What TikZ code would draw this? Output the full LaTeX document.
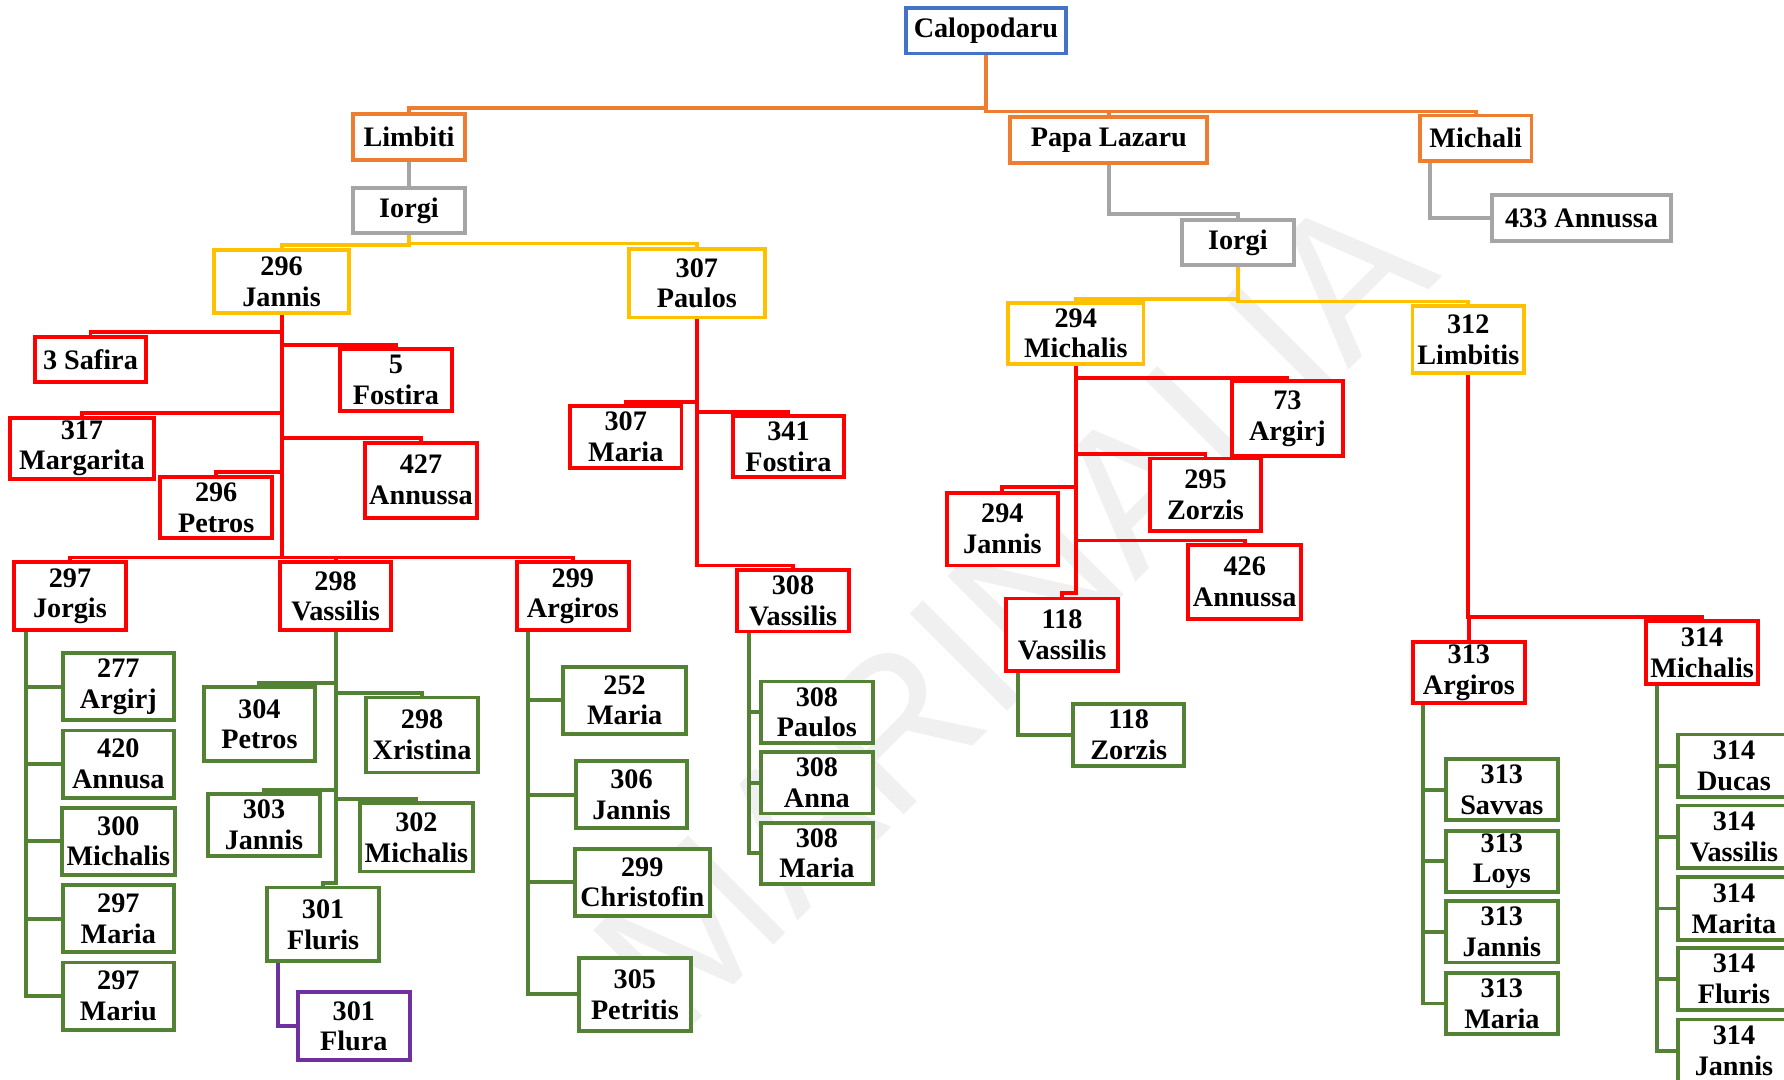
\documentclass[tikz,border=0pt]{standalone}
\usepackage{fontspec}
\setmainfont{Liberation Serif}
\newfontfamily\wmfont{Liberation Sans}
\usetikzlibrary{positioning}

\definecolor{cblue}{HTML}{4472C4}
\definecolor{corange}{HTML}{ED7D31}
\definecolor{cgray}{HTML}{A5A5A5}
\definecolor{cyellow}{HTML}{FFC000}
\definecolor{cred}{HTML}{FF0000}
\definecolor{cgreen}{HTML}{548235}
\definecolor{cpurple}{HTML}{7030A0}

\tikzset{
  pbox/.style={draw=#1, line width=1.7pt, fill=white, align=center,
    font=\fontsize{12.4}{13.5}\selectfont\bfseries,
    inner xsep=2pt, inner ysep=1pt, minimum width=49pt, minimum height=27pt},
  bluebox/.style={pbox=cblue},
  orangebox/.style={pbox=corange},
  graybox/.style={pbox=cgray},
  yellowbox/.style={pbox=cyellow},
  redbox/.style={pbox=cred},
  greenbox/.style={pbox=cgreen},
  purplebox/.style={pbox=cpurple},
  link/.style={draw=#1, line width=1.7pt},
}

\begin{document}
\begin{tikzpicture}[x=0.5pt, y=-0.5pt]
    \useasboundingbox (0,0) rectangle (1568,949);
    % watermark
    \node[rotate=45, text=black!6, font=\fontsize{88}{88}\selectfont\wmfont] (wm) at (890,535) {MARINALIA};

    % top
    \node[bluebox, minimum width=70.5pt, minimum height=20pt] (calo) at (866.5,27) {Calopodaru};
    \node[orangebox, minimum height=20pt] (limbiti) at (359.5,120.5) {Limbiti};
    \node[orangebox, minimum width=86.5pt, minimum height=20pt] (papa) at (974.5,123) {Papa Lazaru};
    \node[orangebox, minimum height=20pt] (michali) at (1297,121.5) {Michali};
    \node[graybox, minimum height=20pt] (iorgiL) at (359.5,185) {Iorgi};
    \node[graybox, minimum height=20pt] (iorgiR) at (1088,213) {Iorgi};
    \node[graybox, minimum width=79pt, minimum height=20pt] (ann433) at (1390,191.5) {433 Annussa};
    \node[yellowbox, minimum width=59.5pt, minimum height=27.5pt] (jan296) at (247.5,247.5) {296\\Jannis};
    \node[yellowbox, minimum width=59.5pt, minimum height=30pt] (pau307) at (612.5,249) {307\\Paulos};
    \node[yellowbox, minimum width=59.5pt] (mic294) at (945.5,293) {294\\Michalis};
    \node[yellowbox, minimum height=29.5pt] (lim312) at (1290.5,298.5) {312\\Limbitis};

    % red generation
    \node[redbox, minimum height=20pt] (saf3) at (79.5,316) {3 Safira};
    \node[redbox] (fos5) at (348,334) {5\\Fostira};
    \node[redbox, minimum width=63pt] (mar317) at (72,394) {317\\Margarita};
    \node[redbox, minimum height=33pt] (ann427) at (370,422) {427\\Annussa};
    \node[redbox] (pet296) at (190,446) {296\\Petros};
    \node[redbox, minimum height=30pt] (jor297) at (61.5,524) {297\\Jorgis};
    \node[redbox, minimum height=30pt] (vas298) at (295,524) {298\\Vassilis};
    \node[redbox, minimum height=30pt] (arg299) at (503.5,524) {299\\Argiros};
    \node[redbox] (mar307) at (550,384) {307\\Maria};
    \node[redbox, minimum height=26.5pt] (fos341) at (693,392.5) {341\\Fostira};
    \node[redbox] (vas308) at (697,528) {308\\Vassilis};
    \node[redbox, minimum height=33pt] (arg73) at (1131.5,368) {73\\Argirj};
    \node[redbox, minimum height=32pt] (zor295) at (1059.5,435) {295\\Zorzis};
    \node[redbox, minimum height=32pt] (jan294) at (881,465) {294\\Jannis};
    \node[redbox, minimum height=32.5pt] (ann426) at (1094,511.5) {426\\Annussa};
    \node[redbox, minimum height=32pt] (vas118) at (933.5,558) {118\\Vassilis};
    \node[redbox] (arg313) at (1291,591) {313\\Argiros};
    \node[redbox, minimum height=27.5pt] (mic314) at (1496,573.5) {314\\Michalis};

    % green generation
    \node[greenbox, minimum height=29.5pt] (arg277) at (104,603.5) {277\\Argirj};
    \node[greenbox, minimum height=29.5pt] (ann420) at (104,671.5) {420\\Annusa};
    \node[greenbox, minimum height=29.5pt] (mic300) at (104,739.5) {300\\Michalis};
    \node[greenbox, minimum height=29.5pt] (mar297) at (104,807.5) {297\\Maria};
    \node[greenbox, minimum height=29.5pt] (mau297) at (104,875.5) {297\\Mariu};
    \node[greenbox, minimum height=32.5pt] (pet304) at (228,636.5) {304\\Petros};
    \node[greenbox, minimum height=33pt] (xri298) at (371,646) {298\\Xristina};
    \node[greenbox] (jan303) at (232,725) {303\\Jannis};
    \node[greenbox, minimum height=30pt] (mic302) at (366,736) {302\\Michalis};
    \node[greenbox, minimum height=32.5pt] (flu301) at (284,812.5) {301\\Fluris};
    \node[purplebox, minimum height=30pt] (fla301) at (311,902) {301\\Flura};
    \node[greenbox, minimum width=54pt, minimum height=29.5pt] (mar252) at (549,615.5) {252\\Maria};
    \node[greenbox, minimum height=29.5pt] (jan306) at (555,698.5) {306\\Jannis};
    \node[greenbox, minimum width=59.5pt, minimum height=29.5pt] (chr299) at (564.5,775.5) {299\\Christofin};
    \node[greenbox, minimum height=32pt] (pet305) at (558,874) {305\\Petritis};
    \node[greenbox] (pau308) at (718,626) {308\\Paulos};
    \node[greenbox] (ann308) at (718,688) {308\\Anna};
    \node[greenbox] (mar308) at (718,750) {308\\Maria};
    \node[greenbox] (zor118) at (992,646) {118\\Zorzis};
    \node[greenbox] (sav313) at (1320,694) {313\\Savvas};
    \node[greenbox] (loy313) at (1320,757) {313\\Loys};
    \node[greenbox] (jan313) at (1320,819) {313\\Jannis};
    \node[greenbox] (mar313) at (1320,882) {313\\Maria};
    \node[greenbox, minimum height=27.5pt] (duc314) at (1524,673) {314\\Ducas};
    \node[greenbox, minimum height=27.5pt] (vas314) at (1524,735.5) {314\\Vassilis};
    \node[greenbox, minimum height=27.5pt] (mat314) at (1524,798.5) {314\\Marita};
    \node[greenbox, minimum height=27.5pt] (flu314) at (1524,860.5) {314\\Fluris};
    \node[greenbox, minimum height=27.5pt] (jan314) at (1524,923.5) {314\\Jannis};

    % connectors: parent bottom, bus line, child top
    \foreach \c/\y in {limbiti/95, papa/98, michali/98}
        \draw[link=corange] (calo.south) -- (calo.south |- 0,\y) -| (\c.north);
    \draw[link=cgray] (limbiti) -- (iorgiL);
    \draw[link=cgray] (papa.south) -- (papa.south |- 0,188) -| (iorgiR.north);
    \draw[link=cgray] (michali.south -| 1257,0) |- (ann433.west);
    \foreach \c/\y in {jan296/215, pau307/214}
        \draw[link=cyellow] (iorgiL.south) -- (iorgiL.south |- 0,\y) -| (\c.north);
    \foreach \c/\y in {mic294/263, lim312/265}
        \draw[link=cyellow] (iorgiR.south) -- (iorgiR.south |- 0,\y) -| (\c.north);
    \foreach \c/\y in {saf3/292, fos5/303, mar317/363, ann427/385, pet296/415, jor297/490, vas298/490, arg299/490}
        \draw[link=cred] (jan296.south) -- (jan296.south |- 0,\y) -| (\c.north);
    \foreach \c/\y in {mar307/353, fos341/362, vas308/497}
        \draw[link=cred] (pau307.south) -- (pau307.south |- 0,\y) -| (\c.north);
    \foreach \c/\y in {arg73/332, zor295/399, jan294/428, ann426/475, vas118/521}
        \draw[link=cred] (mic294.south) -- (mic294.south |- 0,\y) -| (\c.north);
    \foreach \c/\y in {arg313/542, mic314/542}
        \draw[link=cred] (lim312.south) -- (lim312.south |- 0,\y) -| (\c.north);
    \foreach \c/\y in {pet304/600, xri298/609, jan303/694, mic302/702, flu301/776}
        \draw[link=cgreen] (vas298.south) -- (vas298.south |- 0,\y) -| (\c.north);

    % side lists
    \foreach \c in {arg277, ann420, mic300, mar297, mau297}
        \draw[link=cgreen] (jor297.south -| 23,0) |- (\c.west);
    \foreach \c in {mar252, jan306, chr299, pet305}
        \draw[link=cgreen] (arg299.south -| 464,0) |- (\c.west);
    \foreach \c in {pau308, ann308, mar308}
        \draw[link=cgreen] (vas308.south -| 658,0) |- (\c.west);
    \draw[link=cgreen] (vas118.south -| 895,0) |- (zor118.west);
    \foreach \c in {sav313, loy313, jan313, mar313}
        \draw[link=cgreen] (arg313.south -| 1251,0) |- (\c.west);
    \foreach \c in {duc314, vas314, mat314, flu314, jan314}
        \draw[link=cgreen] (mic314.south -| 1456,0) |- (\c.west);
    \draw[link=cpurple] (flu301.south -| 244,0) |- (fla301.west);
\end{tikzpicture}
\end{document}
